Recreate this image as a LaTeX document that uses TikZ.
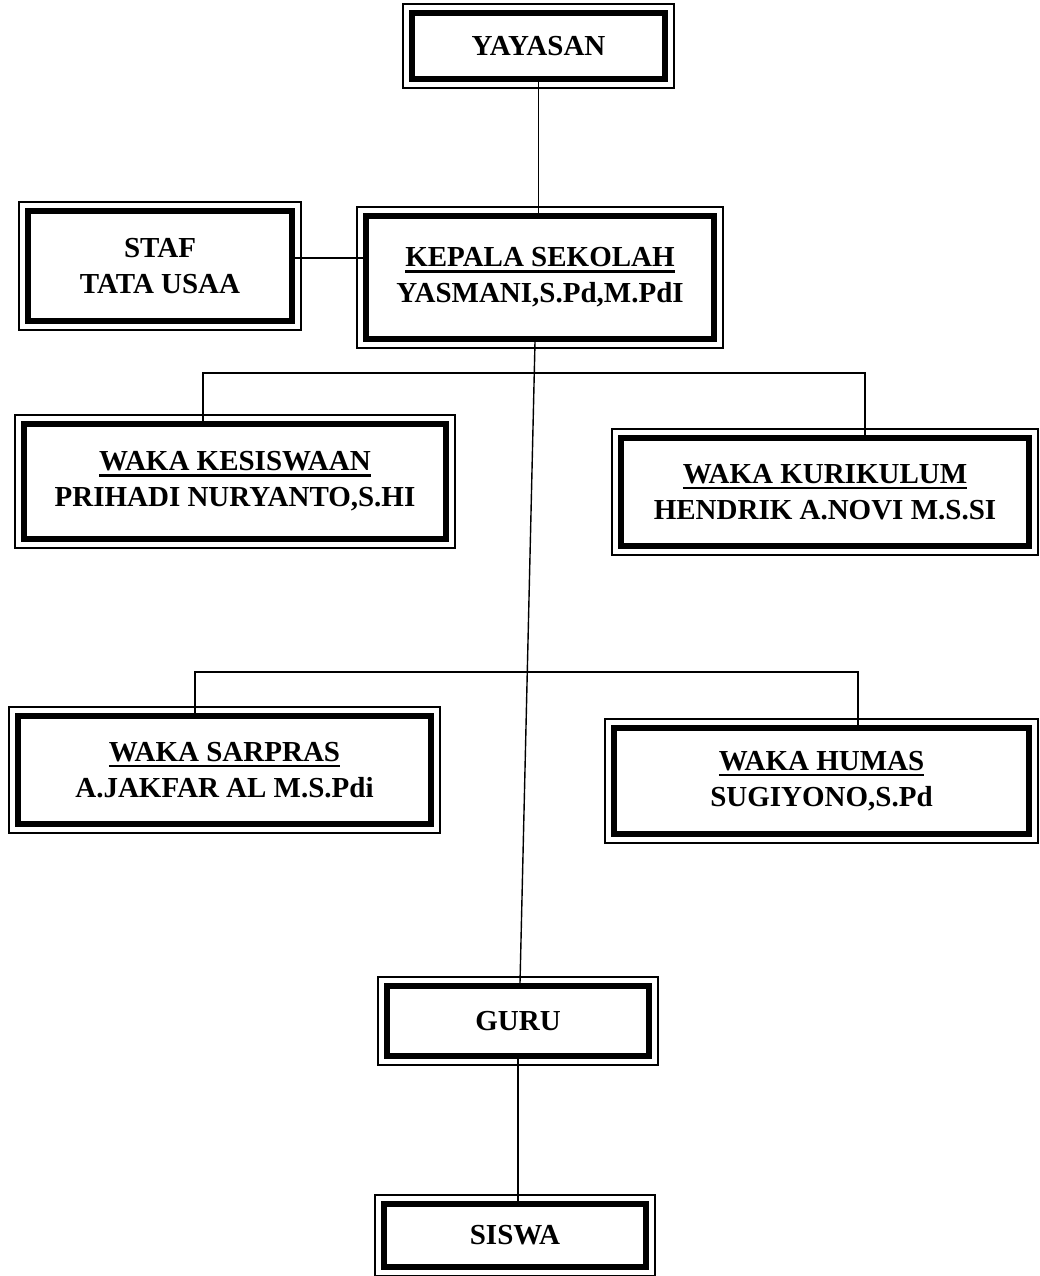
\documentclass[tikz,border=0pt]{standalone}
\usepackage{fontspec}
\setmainfont{Liberation Serif}
\newcommand\ulbox[1]{\setbox0\hbox{#1}\rlap{\rule[-6pt]{\wd0}{2.6pt}}\box0}
\begin{document}
\begin{tikzpicture}[x=1pt,y=-1pt,
  box/.style={draw, line width=6pt, inner sep=0pt, align=center,
    font=\fontsize{29}{36}\selectfont\bfseries},
  link/.style={line width=1.4pt},
  frame/.style={line width=1.6pt}]
\useasboundingbox (0,0) rectangle (1039,1276);
\node[box, minimum width=253, minimum height=66] (yay) at (538.5,46) {YAYASAN};
\node[box, minimum width=264, minimum height=110] (staf) at (160,266) {STAF\\TATA USAA};
\node[box, minimum width=348, minimum height=123] (kepala) at (540,277.5) {\ulbox{KEPALA SEKOLAH}\\YASMANI,S.Pd,M.PdI};
\node[box, minimum width=422, minimum height=115] (kesis) at (235,481.5) {\ulbox{WAKA KESISWAAN}\\PRIHADI NURYANTO,S.HI};
\node[box, minimum width=408, minimum height=108] (kurik) at (825,492) {\ulbox{WAKA KURIKULUM}\\HENDRIK A.NOVI M.S.SI};
\node[box, minimum width=413, minimum height=108] (sarpras) at (224.5,770) {\ulbox{WAKA SARPRAS}\\A.JAKFAR AL M.S.Pdi};
\node[box, minimum width=415, minimum height=106] (humas) at (821.5,781) {\ulbox{WAKA HUMAS}\\SUGIYONO,S.Pd};
\node[box, minimum width=262, minimum height=70] (guru) at (518,1021) {GURU};
\node[box, minimum width=262, minimum height=63] (siswa) at (515,1235.5) {SISWA};
\foreach \n in {yay,staf,kepala,kesis,kurik,sarpras,humas,guru,siswa}
  \draw[frame] ([shift={(-6,-6)}]\n.north west) rectangle ([shift={(6,6)}]\n.south east);
\coordinate (sk) at (0,258);
\coordinate (b1l) at (203,373);
\coordinate (b1r) at (865,373);
\coordinate (b2l) at (195,672);
\coordinate (b2r) at (858,672);
\draw[link] (yay.south) -- (yay.south |- kepala.north);
\draw[link] (staf.east |- sk) -- (kepala.west |- sk);
\draw[link] ([xshift=-5]kepala.south) -- ([xshift=2]guru.north);
\draw[link] (b1l |- kesis.north) -- (b1l) -- (b1r) -- (b1r |- kurik.north);
\draw[link] (b2l |- sarpras.north) -- (b2l) -- (b2r) -- (b2r |- humas.north);
\draw[link] (guru.south) -- (guru.south |- siswa.north);
\end{tikzpicture}
\end{document}
